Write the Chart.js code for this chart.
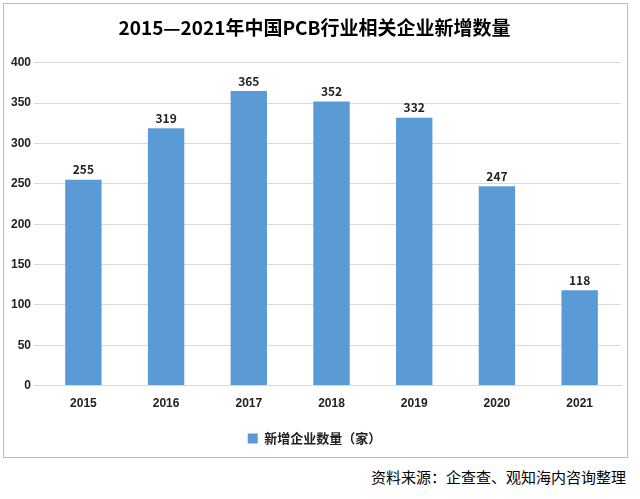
<!DOCTYPE html>
<html><head><meta charset="utf-8">
<script src="https://cdn.jsdelivr.net/npm/chart.js@4"></script>
<style>
body{margin:0;background:#fff;font-family:"Noto Sans CJK SC",sans-serif;}
#box{position:absolute;left:3px;top:3px;width:623px;height:453px;border:1px solid #bfbfbf;}
#src{position:absolute;right:14px;top:466px;font-size:15px;color:#000;}
</style></head><body>
<div id="box"><canvas id="c"></canvas></div>
<div id="src">资料来源：企查查、观知海内咨询整理</div>
<script>
const years = ['2015','2016','2017','2018','2019','2020','2021'];
const counts = [255, 319, 365, 352, 332, 247, 118];

const labelPlugin = {
  id: 'labels',
  afterDatasetsDraw(chart) {
    const ctx = chart.ctx;
    ctx.save();
    ctx.font = 'bold 12px "Noto Sans CJK SC"';
    ctx.fillStyle = '#222';
    ctx.textAlign = 'center';
    chart.getDatasetMeta(0).data.forEach((bar, i) => {
      ctx.fillText(counts[i], bar.x, bar.y - 10);
    });
    ctx.restore();
  }
};

new Chart(document.getElementById('c'), {
  type: 'bar',
  data: {
    labels: years,
    datasets: [{
      label: '新增企业数量（家）',
      data: counts,
      backgroundColor: '#5b9bd5',
      barPercentage: 0.44,
      categoryPercentage: 1
    }]
  },
  options: {
    responsive: true,
    maintainAspectRatio: false,
    animation: false,
    layout: {padding: {left: 4, right: 6, top: 0, bottom: 2}},
    scales: {
      y: {
        min: 0, max: 400,
        ticks: {stepSize: 50, color: '#222', font: {size: 12, weight: 'bold'}},
        grid: {color: '#d9d9d9'},
        border: {display: false}
      },
      x: {
        ticks: {color: '#222', font: {size: 12, weight: 'bold'}},
        grid: {display: false},
        border: {color: '#d9d9d9'}
      }
    },
    plugins: {
      title: {
        display: true,
        text: '2015—2021年中国PCB行业相关企业新增数量',
        color: '#000',
        font: {size: 19, weight: 'bold', family: '"Noto Sans CJK SC"'},
        padding: {top: 12, bottom: 24}
      },
      legend: {
        position: 'bottom',
        labels: {boxWidth: 10, boxHeight: 10, color: '#222', font: {size: 13, weight: 'bold', family: '"Noto Sans CJK SC"'}, padding: 18}
      },
      tooltip: {enabled: false}
    }
  },
  plugins: [labelPlugin]
});
</script>
</body></html>
